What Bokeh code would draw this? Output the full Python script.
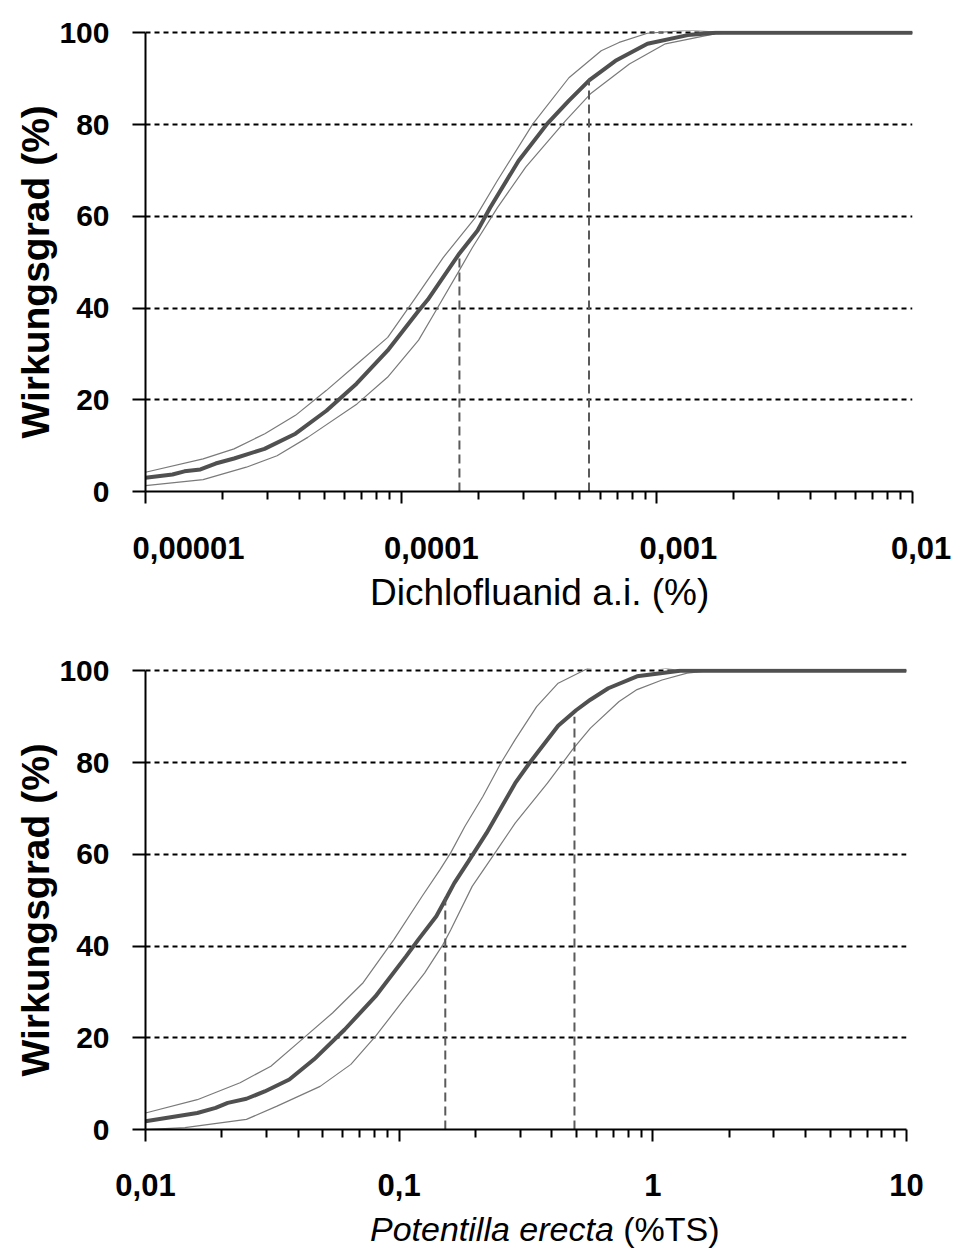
import math
from bokeh.plotting import figure
from bokeh.models import (FixedTicker, Range1d, Title, Div, CustomJSTickFormatter)
from bokeh.layouts import column
from bokeh.embed import file_html
from bokeh.resources import INLINE

FONT = "Liberation Sans"

# ---------------- data ----------------
y_ticks = [0, 20, 40, 60, 80, 100]
y_title = "Wirkungsgrad (%)"

# top chart: Dichlofluanid
top_x_ticks = [1e-5, 1e-4, 1e-3, 1e-2]
top_x_tick_labels = ["0,00001", "0,0001", "0,001", "0,01"]
top_x_title = "Dichlofluanid a.i. (%)"

top_mean_x = [1.0e-5, 1.275e-5, 1.42e-5, 1.64e-5, 1.88e-5, 2.22e-5, 2.92e-5, 3.86e-5, 5.10e-5,
              6.69e-5, 8.84e-5, 1.17e-4, 1.27e-4, 1.69e-4, 1.99e-4, 2.23e-4, 2.88e-4, 3.73e-4,
              4.53e-4, 5.45e-4, 6.89e-4, 9.19e-4, 1.32e-3, 1.70e-3, 1.0e-2]
top_mean_y = [3.0, 3.7, 4.4, 4.8, 6.1, 7.2, 9.3, 12.6, 17.6,
              23.5, 30.7, 39.4, 41.8, 51.9, 56.9, 61.9, 72.1, 80.2,
              85.2, 89.7, 93.9, 97.6, 99.5, 100, 100]

top_upper_x = [1.0e-5, 1.68e-5, 2.22e-5, 2.93e-5, 3.86e-5, 5.09e-5, 6.72e-5, 8.86e-5, 1.13e-4,
               1.46e-4, 1.95e-4, 2.38e-4, 3.28e-4, 4.53e-4, 6.06e-4, 7.12e-4, 9.19e-4, 1.35e-3,
               1.82e-3, 1.0e-2]
top_upper_y = [4.2, 7.1, 9.3, 12.6, 16.6, 22.0, 27.8, 33.6, 42.0,
               51.0, 59.7, 67.8, 80.2, 90.2, 96.1, 97.9, 99.9, 100.6,
               100, 100]

top_lower_x = [1.0e-5, 1.68e-5, 2.48e-5, 3.27e-5, 4.31e-5, 6.72e-5, 8.84e-5, 1.17e-4, 1.37e-4,
               1.66e-4, 1.90e-4, 2.38e-4, 3.07e-4, 4.39e-4, 5.50e-4, 6.06e-4, 7.81e-4, 1.08e-3,
               1.70e-3, 2.20e-3, 1.0e-2]
top_lower_y = [1.3, 2.6, 5.3, 7.8, 11.8, 19.1, 24.9, 33.0, 39.5,
               47.5, 53.2, 61.9, 70.7, 80.8, 86.7, 88.5, 93.2, 97.6,
               99.8, 100, 100]

top_ec_x = [1.69e-4, 5.43e-4]
top_ec_y = [52, 90]

# bottom chart: Potentilla erecta
bot_x_ticks = [0.01, 0.1, 1, 10]
bot_x_tick_labels = ["0,01", "0,1", "1", "10"]
bot_x_title_italic = "Potentilla erecta"
bot_x_title_rest = "(%TS)"

bot_mean_x = [0.01, 0.0160, 0.0189, 0.0211, 0.0250, 0.0295, 0.0369, 0.0462, 0.0610, 0.0806,
              0.1066, 0.1190, 0.1401, 0.1545, 0.1649, 0.1878, 0.2209, 0.2866, 0.3264, 0.4234,
              0.4982, 0.5675, 0.6677, 0.8664, 1.28, 10]
bot_mean_y = [1.8, 3.6, 4.7, 5.8, 6.7, 8.3, 10.9, 15.3, 21.8, 29.0,
              37.8, 41.4, 46.5, 50.8, 53.7, 58.5, 64.6, 75.5, 79.9, 88.0,
              91.4, 93.7, 96.2, 98.8, 100, 100]

bot_upper_x = [0.01, 0.0160, 0.0236, 0.0312, 0.0413, 0.0546, 0.0721, 0.0953, 0.1230, 0.1447,
               0.1596, 0.1817, 0.2138, 0.2518, 0.2866, 0.3483, 0.4234, 0.5585, 0.70, 1.0,
               1.28, 10]
bot_upper_y = [3.6, 6.5, 10.2, 13.8, 19.6, 25.4, 32.0, 41.4, 50.8, 56.6,
               60.3, 66.1, 72.6, 79.9, 85.0, 92.2, 97.3, 100.6, 101.5, 101,
               100, 100]

bot_lower_x = [0.01, 0.0143, 0.0250, 0.0330, 0.0488, 0.0645, 0.0806, 0.1007, 0.1259, 0.1488,
               0.1596, 0.1940, 0.2436, 0.2866, 0.3842, 0.4821, 0.5675, 0.7361, 0.8664, 1.087,
               1.365, 1.607, 10]
bot_lower_y = [0.0, 0.4, 2.2, 5.1, 9.4, 14.2, 20.3, 27.2, 34.1, 40.3,
               43.5, 53.0, 61.0, 66.8, 75.5, 82.8, 87.5, 93.3, 95.9, 98.0,
               99.5, 99.9, 100]

bot_ec_x = [0.152, 0.491]
bot_ec_y = [50.5, 90]

# ---------------- styling helpers ----------------
NBSP = "\u00a0"
top_label_pad = [10, 7, 5, 2]   # shifts the top tick labels to the right, as in the original


def minor_ticks(lo_exp, hi_exp):
    return [m * 10.0 ** e for e in range(lo_exp, hi_exp) for m in range(2, 10)]


def label_formatter(tvals, tlabels):
    return CustomJSTickFormatter(
        args=dict(tvals=tvals, tlabels=tlabels),
        code="""
        for (let i = 0; i < tvals.length; i++) {
            if (Math.abs(Math.log10(tvals[i]) - Math.log10(tick)) < 1e-6) return tlabels[i];
        }
        return '';
        """)


def make_fig(x_ticks, x_labels, minor, frame_w, min_top, min_bottom, min_right, standoff,
             mean_x, mean_y, up_x, up_y, lo_x, lo_y, ec_x, ec_y):
    p = figure(x_axis_type="log",
               x_range=Range1d(x_ticks[0], x_ticks[-1]),
               y_range=Range1d(0, 100.5),
               frame_width=frame_w, frame_height=461,
               min_border_left=145, min_border_right=min_right,
               min_border_top=min_top, min_border_bottom=min_bottom,
               output_backend="svg", toolbar_location=None)
    p.outline_line_color = None
    p.background_fill_color = "white"
    p.border_fill_color = "white"

    # grid
    p.xgrid.visible = False
    p.ygrid.grid_line_color = "black"
    p.ygrid.grid_line_width = 2
    p.ygrid.grid_line_dash = "5 4"

    # y axis
    p.yaxis.ticker = FixedTicker(ticks=y_ticks, minor_ticks=[])
    p.yaxis.bounds = (0, 100)
    p.yaxis.axis_line_color = "black"
    p.yaxis.axis_line_width = 2
    p.yaxis.major_tick_line_color = "black"
    p.yaxis.major_tick_line_width = 2
    p.yaxis.major_tick_out = 13
    p.yaxis.major_tick_in = 0
    p.yaxis.minor_tick_line_color = None
    p.yaxis.major_label_standoff = 23
    p.yaxis.major_label_text_font = FONT
    p.yaxis.major_label_text_font_style = "bold"
    p.yaxis.major_label_text_font_size = "30px"
    p.yaxis.major_label_text_color = "black"

    # x axis
    p.xaxis.ticker = FixedTicker(ticks=x_ticks, minor_ticks=minor)
    p.xaxis.formatter = label_formatter(x_ticks, x_labels)
    p.xaxis.axis_line_color = "black"
    p.xaxis.axis_line_width = 2
    p.xaxis.major_tick_line_color = "black"
    p.xaxis.major_tick_line_width = 2
    p.xaxis.major_tick_out = 12
    p.xaxis.major_tick_in = 0
    p.xaxis.minor_tick_line_color = "black"
    p.xaxis.minor_tick_line_width = 2
    p.xaxis.minor_tick_out = 8
    p.xaxis.minor_tick_in = 0
    p.xaxis.major_label_standoff = standoff
    p.xaxis.major_label_text_font = FONT
    p.xaxis.major_label_text_font_style = "bold"
    p.xaxis.major_label_text_font_size = "31px"
    p.xaxis.major_label_text_color = "black"

    # curves
    p.line(up_x, up_y, line_color="#7a7a7a", line_width=1.2)
    p.line(lo_x, lo_y, line_color="#7a7a7a", line_width=1.2)
    p.line(mean_x, mean_y, line_color="#505050", line_width=4)
    p.segment(x0=ec_x, y0=[0] * len(ec_x), x1=ec_x, y1=ec_y,
              line_color="#5a5a5a", line_width=2, line_dash="9 5")

    # y title (left side, rotated)
    p.add_layout(Title(text=y_title, align="left", offset=53, vertical_align="bottom",
                       standoff=0, text_font=FONT, text_font_style="bold",
                       text_font_size="39px", text_color="black"), "left")
    return p


def title_div(html, margin_left, font_px, line_px, width, shift):
    return Div(text=('<div style="margin-left:%dpx;position:relative;top:%dpx;'
                     'font-family:\'Liberation Sans\',Arial,sans-serif;'
                     'font-size:%dpx;line-height:%dpx;color:#000;white-space:nowrap;">%s</div>'
                     % (margin_left, shift, font_px, line_px, html)),
               width=width, height=line_px, margin=(0, 0, 0, 0))


# ---------------- top figure ----------------
top_labels_padded = [NBSP * n + t for n, t in zip(top_label_pad, top_x_tick_labels)]
p1 = make_fig(top_x_ticks, top_labels_padded, minor_ticks(-5, -2), 767, 30, 80, 45, 27,
              top_mean_x, top_mean_y, top_upper_x, top_upper_y,
              top_lower_x, top_lower_y, top_ec_x, top_ec_y)
d1 = title_div(top_x_title, 370, 37, 46, 957, -1)

# ---------------- bottom figure ----------------
p2 = make_fig(bot_x_ticks, bot_x_tick_labels, minor_ticks(-2, 1), 761, 51, 80, 51, 32,
              bot_mean_x, bot_mean_y, bot_upper_x, bot_upper_y,
              bot_lower_x, bot_lower_y, bot_ec_x, bot_ec_y)
d2 = title_div("<i>%s</i> %s" % (bot_x_title_italic, bot_x_title_rest), 370, 34, 40, 957, 0)

layout = column(p1, d1, p2, d2, spacing=0)
open("out.html", "w").write(file_html(layout, INLINE))
